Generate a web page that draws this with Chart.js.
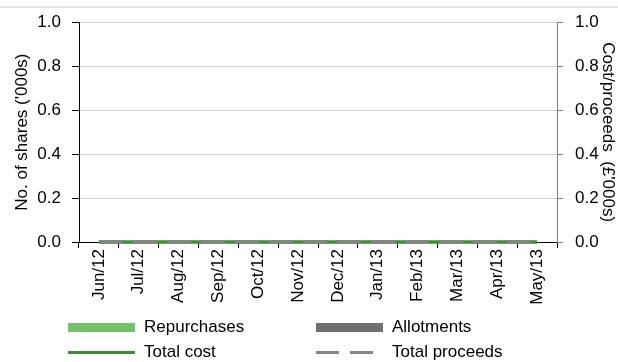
<!DOCTYPE html>
<html lang="en">
<head>
    <meta charset="UTF-8">
    <title>Share repurchases and allotments</title>
    <script src="https://cdn.jsdelivr.net/npm/chart.js"></script>
    <style>
        body { margin: 0; background: #fff; font-family: 'Liberation Sans', Arial, sans-serif; }
        #wrap { position: relative; width: 618px; height: 362px; }
        #topline { position: absolute; left: 0; top: 6px; width: 618px; height: 2px; background: #e6e6e6; }
        .leg { position: absolute; display: flex; align-items: center; font-size: 17px; color: #000; }
        .sw { width: 67px; margin-right: 9px; }
    </style>
</head>
<body>
<div id="wrap">
    <div id="topline"></div>
    <canvas id="chart" width="618" height="362"></canvas>
    <div id="legend"></div>
</div>
<script>
    // months shown on the x axis
    const months = ['Jun/12', 'Jul/12', 'Aug/12', 'Sep/12', 'Oct/12', 'Nov/12',
                    'Dec/12', 'Jan/13', 'Feb/13', 'Mar/13', 'Apr/13', 'May/13'];
    // no. of shares ('000s) - nothing happened in the year
    const repurchases = [0, 0, 0, 0, 0, 0, 0, 0, 0, 0, 0, 0];
    const allotments  = [0, 0, 0, 0, 0, 0, 0, 0, 0, 0, 0, 0];
    // cost / proceeds (£'000s)
    const totalCost     = [0, 0, 0, 0, 0, 0, 0, 0, 0, 0, 0, 0];
    const totalProceeds = [0, 0, 0, 0, 0, 0, 0, 0, 0, 0, 0, 0];
    const axisTicks = [0, 0.2, 0.4, 0.6, 0.8, 1.0];

    const font = { family: "'Liberation Sans', Arial, sans-serif", size: 17 };

    // lines sit on the zero line, so draw them over the axes
    const linesOnTop = {
        id: 'linesOnTop',
        afterDraw(c) {
            c.getSortedVisibleDatasetMetas().filter(m => m.type === 'line').reverse()
                .forEach(m => m.controller.draw());
        }
    };

    const ctx = document.getElementById('chart').getContext('2d');
    const chart = new Chart(ctx, {
        type: 'bar',
        data: {
            labels: months,
            datasets: [
                { type: 'line', label: 'Total proceeds', data: totalProceeds, yAxisID: 'y1',
                  borderColor: '#858585', borderWidth: 3, borderDash: [24, 10], pointRadius: 0, order: 0, clip: false },
                { type: 'line', label: 'Total cost', data: totalCost, yAxisID: 'y1',
                  borderColor: '#3f8c39', borderWidth: 3, pointRadius: 0, order: 1, clip: false },
                { label: 'Repurchases', data: repurchases, backgroundColor: '#74c267', order: 2 },
                { label: 'Allotments', data: allotments, backgroundColor: '#707070', order: 3 }
            ]
        },
        options: {
            responsive: false,
            animation: false,
            layout: { padding: { top: 21, left: 0, right: 0, bottom: 0 } },
            plugins: { legend: { display: false }, tooltip: { enabled: false } },
            scales: {
                x: {
                    offset: true,
                    grid: { offset: true, drawOnChartArea: false, tickLength: 6, color: '#000' },
                    border: { color: '#000' },
                    ticks: { color: '#000', font: font, minRotation: 90, maxRotation: 90, padding: 1 },
                    afterFit: s => { s.height = 120; }
                },
                y: {
                    position: 'left', min: 0, max: 1,
                    afterBuildTicks: s => { s.ticks = axisTicks.map(v => ({ value: v })); },
                    ticks: { color: '#000', font: font, padding: 11, callback: v => v.toFixed(1) },
                    grid: { color: '#d4d4d4', tickColor: '#000', tickLength: 7 },
                    border: { color: '#000' },
                    title: { display: true, text: "No. of shares ('000s)", color: '#000', font: font, padding: { top: 12, bottom: 0 } },
                    afterFit: s => { s.width = 79; }
                },
                y1: {
                    position: 'right', min: 0, max: 1,
                    afterBuildTicks: s => { s.ticks = axisTicks.map(v => ({ value: v })); },
                    ticks: { color: '#000', font: font, padding: 12, callback: v => v.toFixed(1) },
                    grid: { drawOnChartArea: false, color: '#808080', tickLength: 6 },
                    border: { color: '#808080' },
                    title: { display: true, text: "Cost/proceeds  (£'000s)", color: '#000', font: font, padding: { top: 0, bottom: 0 } },
                    afterFit: s => { s.width = 61; }
                }
            }
        },
        plugins: [linesOnTop]
    });

    // legend in two columns below the chart
    const legendItems = [
        { label: 'Repurchases', x: 68, y: 327, h: 9, color: '#74c267' },
        { label: 'Allotments', x: 316, y: 327, h: 9, color: '#707070' },
        { label: 'Total cost', x: 68, y: 352, h: 3, color: '#3f8c39' },
        { label: 'Total proceeds', x: 316, y: 352, h: 3, color: '#858585', dash: true }
    ];
    const legend = document.getElementById('legend');
    legendItems.forEach(it => {
        const d = document.createElement('div');
        d.className = 'leg';
        d.style.left = it.x + 'px';
        d.style.top = (it.y - 11) + 'px';
        d.style.height = '22px';
        const sw = document.createElement('span');
        sw.className = 'sw';
        sw.style.height = it.h + 'px';
        sw.style.background = it.dash
            ? 'repeating-linear-gradient(to right, ' + it.color + ' 0 23px, transparent 23px 34px)'
            : it.color;
        d.appendChild(sw);
        const t = document.createElement('span');
        t.textContent = it.label;
        d.appendChild(t);
        legend.appendChild(d);
    });
</script>
</body>
</html>
